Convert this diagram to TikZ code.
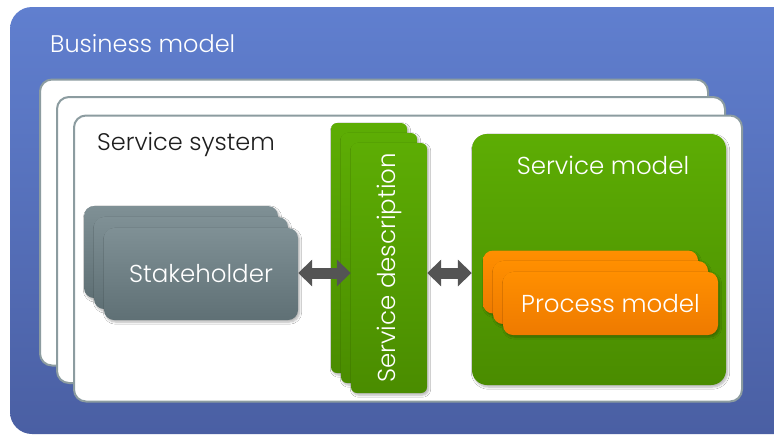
\documentclass[tikz,border=0pt]{standalone}
\usepackage{fontspec}
\IfFontExistsTF{Poppins Light}{\setmainfont{Poppins}[UprightFont={* Light}]}{\setmainfont{Poppins}}
\usetikzlibrary{arrows.meta,shadows.blur,calc}

\definecolor{bmtop}{HTML}{607FCF}
\definecolor{bmbot}{HTML}{4A5FA3}
\definecolor{framegray}{HTML}{8C9CA0}
\definecolor{sttop}{HTML}{7F9095}
\definecolor{stbot}{HTML}{5F7075}
\definecolor{grtop}{HTML}{5DAD04}
\definecolor{grbot}{HTML}{4A8C00}
\definecolor{ortop}{HTML}{FF8F00}
\definecolor{orbot}{HTML}{EE7A00}
\definecolor{arrowgray}{HTML}{545454}
\definecolor{darktext}{HTML}{1E1E1E}

\begin{document}
\begin{tikzpicture}[x=1pt,y=-1pt,
  labelfont/.style={font=\fontsize{24.5}{28}\selectfont},
  titlefont/.style={font=\fontsize{24}{28}\selectfont},
  softshadow/.style={blur shadow={shadow xshift=1.5pt,shadow yshift=-2pt,shadow opacity=30,shadow blur steps=6,shadow blur extra rounding=2pt}},
  bmbox/.style={rounded corners=22pt,top color=bmtop,bottom color=bmbot,minimum width=790pt,minimum height=427pt,inner sep=0},
  framebox/.style={draw=framegray,line width=2pt,fill=white,rounded corners=12pt,minimum width=668pt,minimum height=286pt,inner sep=0},
  stakebox/.style={rounded corners=10pt,top color=sttop,bottom color=stbot,minimum width=194pt,minimum height=92pt,inner sep=0,softshadow,text=white,labelfont},
  descbox/.style={rounded corners=6pt,top color=grtop,bottom color=grbot,minimum width=76pt,minimum height=250pt,inner sep=0,softshadow,text=white,labelfont},
  modelbox/.style={rounded corners=15pt,top color=grtop,bottom color=grbot,minimum width=254pt,minimum height=251pt,inner sep=0,softshadow},
  procbox/.style={rounded corners=10pt,top color=ortop,bottom color=orbot,minimum width=215pt,minimum height=63pt,inner sep=0,softshadow,text=white,labelfont},
  dblarrow/.style={draw=arrowgray,line width=11pt,{Triangle[width=26pt,length=14pt]}-{Triangle[width=26pt,length=14pt]}}
]
\useasboundingbox (0,0) rectangle (774,437);
\clip (0,0) rectangle (774,437);
\fill[white] (0,0) rectangle (774,437);

% outer business model area
\node[bmbox] (bm) at (405,220.5) {};
\node[titlefont,text=white,anchor=base west,inner sep=0] (bmlabel) at (50,52) {Business model};

% stacked service system frames
\node[framebox] (f1) at (374,222.5) {};
\node[framebox] (f2) at (391,240) {};
\node[framebox] (f3) at (408,258.5) {};
\node[titlefont,text=darktext,anchor=base west,inner sep=0] (sslabel) at (97,150) {Service system};

% stakeholders
\node[stakebox] (st1) at (181,252) {};
\node[stakebox] (st2) at (191,263) {};
\node[stakebox] (st3) at (201,274) {Stakeholder};

% service descriptions
\node[descbox] (sd1) at (369,248) {};
\node[descbox] (sd2) at (379,258) {};
\node[descbox] (sd3) at (389,268) {\rotatebox{90}{Service description}};

% service model with process models
\node[modelbox] (sm) at (599,259.5) {};
\node[labelfont,text=white,anchor=base,inner sep=0] (smlabel) at (603,174) {Service model};
\node[procbox] (pm1) at (590.5,282) {};
\node[procbox] (pm2) at (600.5,292.5) {};
\node[procbox] (pm3) at (610.5,303.5) {Process model};

% connectors
\draw[dblarrow] (st3.east |- 0,273) -- (sd3.west |- 0,273);
\draw[dblarrow] (sd3.east |- 0,273) -- (sm.west |- 0,273);
\end{tikzpicture}
\end{document}
